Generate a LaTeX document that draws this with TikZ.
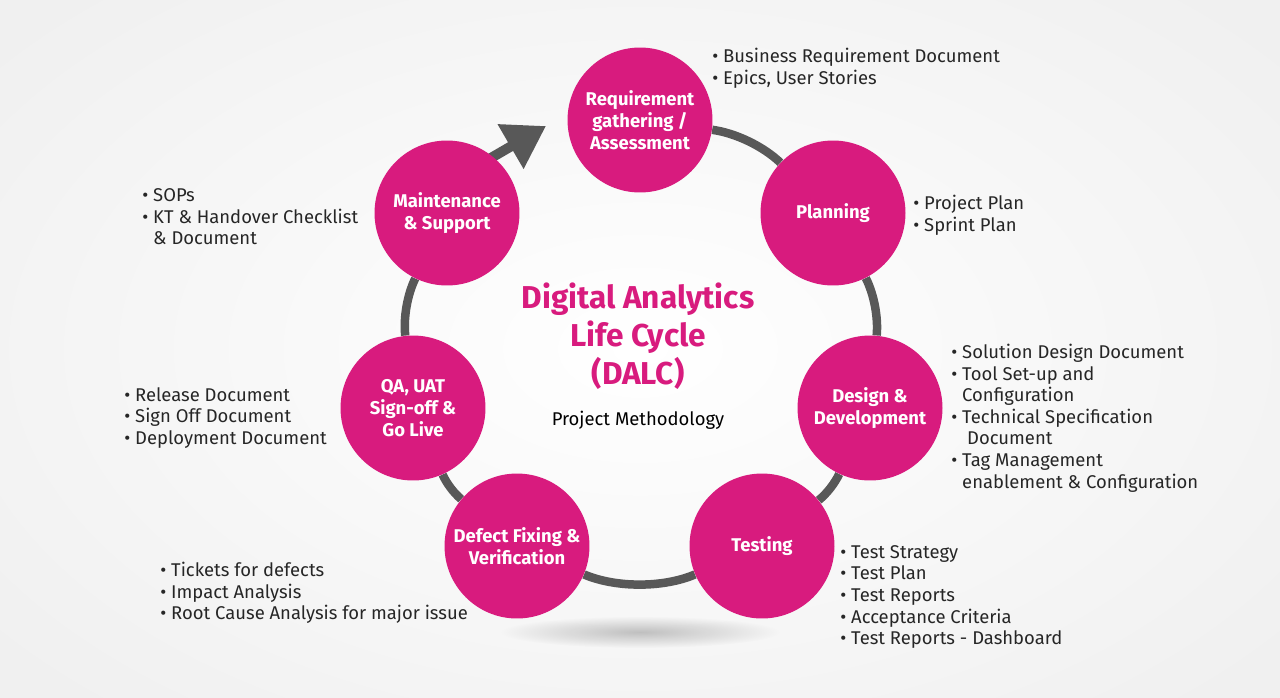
\documentclass[tikz,border=0pt]{standalone}
\usepackage{fontspec}
\setmainfont{Fira Sans}
\usepackage{xcolor}
\usetikzlibrary{arrows.meta,positioning,backgrounds,fadings}

\definecolor{dalcpink}{RGB}{216,27,126}
\definecolor{ringgray}{RGB}{88,88,88}

\tikzfading[name=softshadow, inner color=transparent!0, outer color=transparent!100]

\tikzset{
  phase/.style={circle, fill=dalcpink, minimum size=2.9cm, inner sep=0pt, text=white,
    font=\fontsize{10.5}{12.6}\selectfont\bfseries, align=center},
  notes/.style={anchor=west, align=left, inner sep=0pt, text=black!85,
    font=\fontsize{10.5}{12.3}\selectfont},
  ring/.style={draw=ringgray, line width=0.17cm},
}
\newcommand{\hang}{\hphantom{• }}

\begin{document}
\begin{tikzpicture}[x=0.02cm, y=-0.02cm]
    \useasboundingbox (0,0) rectangle (1280,697);

    % Phases of the cycle
    \node[phase] (req) at (640,120) {Requirement\\gathering /\\Assessment};
    \node[phase] (plan) at (833,213) {Planning};
    \node[phase] (des) at (870,408) {Design \&\\Development};
    \node[phase] (test) at (762,546) {Testing};
    \node[phase] (def) at (517,546) {Defect Fixing \&\\Verification};
    \node[phase] (qa) at (413,408) {QA, UAT\\Sign-off \&\\Go Live};
    \node[phase] (maint) at (447,213) {Maintenance\\\& Support};

    % Title
    \node[font=\fontsize{18}{21.5}\selectfont\bfseries, text=dalcpink, align=center] (title) at (638,336) {Digital Analytics\\Life Cycle\\(DALC)};
    \node[below=0.2cm of title, font=\fontsize{10.5}{12}\selectfont] (method) {Project Methodology};

    % Deliverables
    \node[notes] (reqnotes) at (712,68) {• Business Requirement Document\\• Epics, User Stories};
    \node[notes] (plannotes) at (913,215) {• Project Plan\\• Sprint Plan};
    \node[notes] (desnotes) at (951,418) {• Solution Design Document\\• Tool Set-up and\\\hang Configuration\\• Technical Specification\\\hang\ Document\\• Tag Management\\\hang enablement \& Configuration};
    \node[notes] (testnotes) at (840,597) {• Test Strategy\\• Test Plan\\• Test Reports\\• Acceptance Criteria\\• Test Reports - Dashboard};
    \node[notes] (defnotes) at (160,593) {• Tickets for defects\\• Impact Analysis\\• Root Cause Analysis for major issue};
    \node[notes] (qanotes) at (124,418) {• Release Document\\• Sign Off Document\\• Deployment Document};
    \node[notes] (maintnotes) at (142,217) {• SOPs\\• KT \& Handover Checklist\\\hang\& Document};

    \coordinate (arrfrom) at (441,187);
    \coordinate (arrtip) at (546,126);

    \begin{scope}[on background layer]
        % backdrop and shadow
        \shade[inner color=white, outer color=black!6] (-200,-150) rectangle (1480,847);
        \fill[black, fill opacity=0.22, path fading=softshadow] (640,632) ellipse (140 and 16);
        % ring
        \draw[ring] (req) to[bend left=18, looseness=0.8] (plan);
        \draw[ring] (plan) to[bend left=16, looseness=0.8] (des);
        \draw[ring] (des) to[bend left=13, looseness=0.8] (test);
        \draw[ring] (test) to[bend left=23, looseness=0.8] (def);
        \draw[ring] (def) to[bend left=13, looseness=0.8] (qa);
        \draw[ring] (qa) to[bend left=16, looseness=0.8] (maint);
        \draw[ring, line width=0.2cm, -{Triangle[length=0.82cm, width=0.98cm]}] (arrfrom) -- (arrtip);
    \end{scope}
\end{tikzpicture}
\end{document}
